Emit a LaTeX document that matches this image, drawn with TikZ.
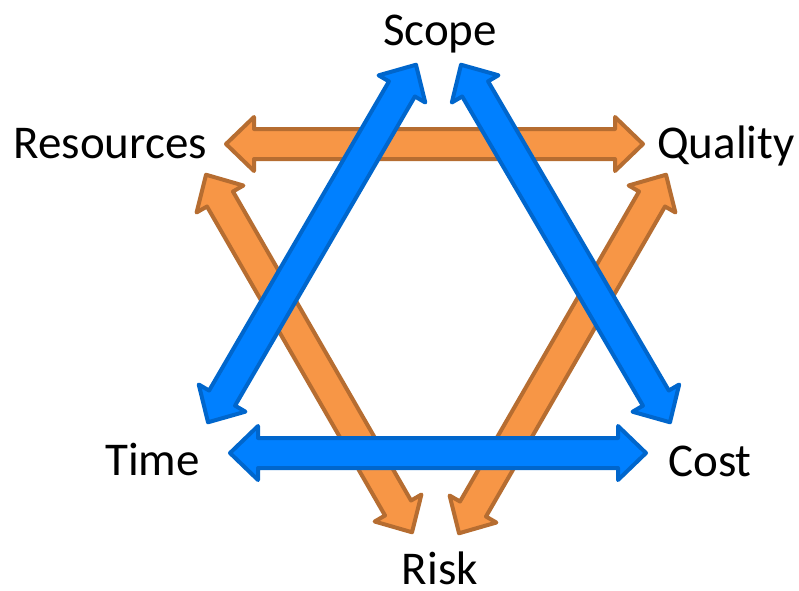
\documentclass[tikz,border=0pt]{standalone}
\usepackage{fontspec}
\setmainfont{Carlito}
\usetikzlibrary{calc}
\definecolor{bfill}{HTML}{0080FF}
\definecolor{bline}{HTML}{0066CC}
\definecolor{ofill}{HTML}{F79646}
\definecolor{oline}{HTML}{B66D31}
\tikzset{
  bluearrow/.style={fill=bfill,draw=bline,line width=4pt,line join=round},
  orangearrow/.style={fill=ofill,draw=oline,line width=4pt,line join=round},
  lbl/.style={inner sep=0pt,font=\fontsize{47}{50}\selectfont,text=black}
}
\newcommand\dblarr[3]{%
 \coordinate (pa) at ($(#2)!2pt!(#3)$);
 \coordinate (pb) at ($(#3)!2pt!(#2)$);
 \coordinate (ha) at ($(pa)!28pt!(pb)$);
 \coordinate (hb) at ($(pb)!28pt!(pa)$);
 \draw[#1] (pa) -- ($(ha)!27pt!90:(pb)$) -- ($(ha)!15pt!90:(pb)$)
   -- ($(hb)!15pt!-90:(pa)$) -- ($(hb)!27pt!-90:(pa)$) -- (pb)
   -- ($(hb)!27pt!90:(pa)$) -- ($(hb)!15pt!90:(pa)$)
   -- ($(ha)!15pt!-90:(pb)$) -- ($(ha)!27pt!-90:(pb)$) -- cycle;
}
\begin{document}
\begin{tikzpicture}[x=1pt,y=-1pt]
\useasboundingbox (0,0) rectangle (799,590);
% labels
\node[lbl,anchor=base] (scope) at (440,45) {Scope};
\node[lbl,anchor=base east] (resources) at (207,158) {Resources};
\node[lbl,anchor=base west] (quality) at (657,158) {Quality};
\node[lbl,anchor=base east] (time) at (200,475) {Time};
\node[lbl,anchor=base west] (cost) at (668,476) {Cost};
\node[lbl,anchor=base] (risk) at (440,584) {Risk};
% arrow end points
\coordinate (rqA) at (224,144);
\coordinate (rqB) at (645,144);
\coordinate (rrA) at (205,173);
\coordinate (rrB) at (413,534);
\coordinate (qrA) at (667,173);
\coordinate (qrB) at (458,535);
\coordinate (stA) at (417,63);
\coordinate (stB) at (207,424);
\coordinate (scA) at (460,63);
\coordinate (scB) at (671,424);
\coordinate (tcA) at (228,453);
\coordinate (tcB) at (648,453);
% orange arrows
\dblarr{orangearrow}{rqA}{rqB}
\dblarr{orangearrow}{rrA}{rrB}
\dblarr{orangearrow}{qrA}{qrB}
% blue arrows
\dblarr{bluearrow}{stA}{stB}
\dblarr{bluearrow}{scA}{scB}
\dblarr{bluearrow}{tcA}{tcB}
\end{tikzpicture}
\end{document}
